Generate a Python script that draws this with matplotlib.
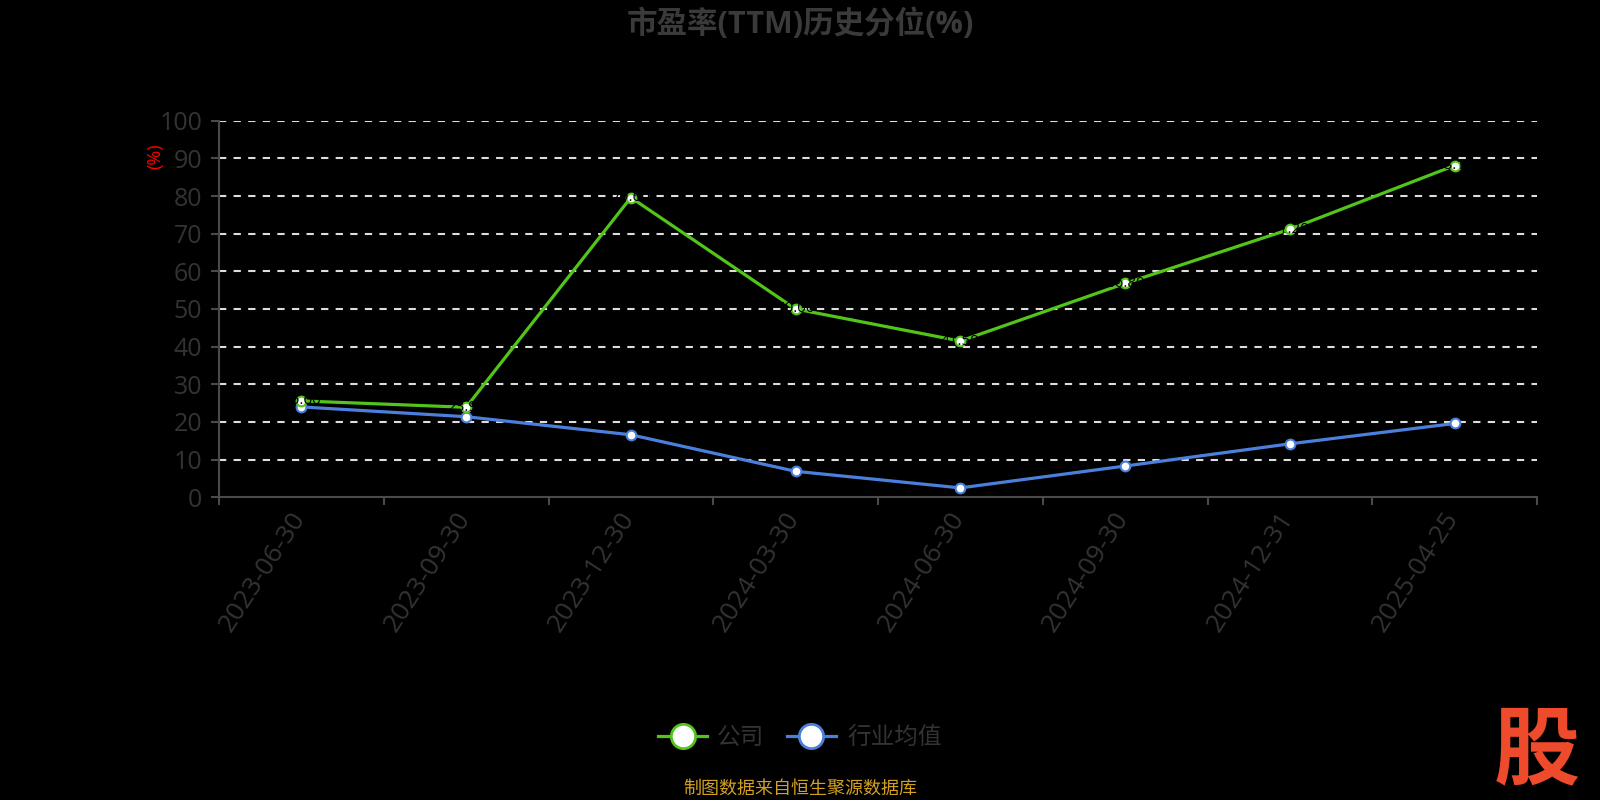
import matplotlib
matplotlib.use("Agg")
import matplotlib.pyplot as plt
from matplotlib.lines import Line2D

plt.rcParams['font.family'] = ['Open Sans', 'Noto Sans CJK SC', 'DejaVu Sans']

dates = ["2023-06-30", "2023-09-30", "2023-12-30", "2024-03-30",
         "2024-06-30", "2024-09-30", "2024-12-31", "2025-04-25"]
company = [25.6, 23.9, 79.6, 50.0, 41.5, 56.8, 71.2, 88.1]
industry = [24.0, 21.4, 16.6, 6.9, 2.5, 8.3, 14.2, 19.6]
yticks = [0, 10, 20, 30, 40, 50, 60, 70, 80, 90, 100]

GREEN = '#52c41a'
BLUE = '#4a80dc'
TXT = '#333333'
AXC = '#4a4a4a'

fig = plt.figure(figsize=(16, 8), dpi=100, facecolor='black')
ax = fig.add_axes([219/1600, 1-497.3/800, (1537-219)/1600, (497.3-120.7)/800])
ax.set_facecolor('black')

n = len(dates)
xs = list(range(n))
ax.set_xlim(-0.5, n-0.5)
ax.set_ylim(0, 100)

for v in yticks[1:]:
    ax.axhline(v, color='#dddddd', lw=1.5, dashes=(3.5, 3.5), zorder=1)

ax.plot(xs, company, color=GREEN, lw=2.3, marker='o', ms=7, mfc='white',
        mec=GREEN, mew=1.5, zorder=4, clip_on=False)
ax.plot(xs, industry, color=BLUE, lw=2.3, marker='o', ms=7, mfc='white',
        mec=BLUE, mew=1.5, zorder=3, clip_on=False)

for x, v in zip(xs, company):
    ax.text(x, v, f"{v:.2f}", color='black', ha='center', va='center', fontsize=11, zorder=5)

for s in ['top', 'right']:
    ax.spines[s].set_visible(False)
for s in ['left', 'bottom']:
    ax.spines[s].set_color(AXC)
    ax.spines[s].set_linewidth(1.5)

ax.set_yticks(yticks)
ax.set_yticklabels([str(v) for v in yticks])
ax.tick_params(axis='y', colors=AXC, labelcolor=TXT, labelsize=18, length=6, width=1.5, pad=6)

ax.set_xticks([i - 0.5 for i in range(n + 1)])
ax.set_xticklabels([])
ax.tick_params(axis='x', colors=AXC, length=6, width=1.5)
for x, d in zip(xs, dates):
    ax.annotate(d, xy=(x, 0), xycoords='data', xytext=(-1, -12), textcoords='offset points',
                rotation=57, rotation_mode='anchor', ha='right', va='center',
                color=TXT, fontsize=19)

fig.text(155/1600, 1-156/800, '(%)', color='red', rotation=90, ha='center', va='center', fontsize=13)

fig.text(0.5, 1-24/800, '市盈率(TTM)历史分位(%)', color='#3a3a3a', ha='center', va='center',
         fontsize=22, fontweight='bold')

# legend
ly = 1-736/800
fig.add_artist(Line2D([658/1600, 707/1600], [ly, ly], color=GREEN, lw=2.3, marker=None))
fig.add_artist(Line2D([683/1600], [ly], color=GREEN, marker='o', ms=17.5, mfc='white', mec=GREEN, mew=2))
fig.text(717/1600, 1-738/800, '公司', color=TXT, ha='left', va='center', fontsize=17)
fig.add_artist(Line2D([787/1600, 836/1600], [ly, ly], color=BLUE, lw=2.3))
fig.add_artist(Line2D([811/1600], [ly], color=BLUE, marker='o', ms=17.5, mfc='white', mec=BLUE, mew=2))
fig.text(847/1600, 1-738/800, '行业均值', color=TXT, ha='left', va='center', fontsize=17)

fig.text(0.5, 1-789/800, '制图数据来自恒生聚源数据库', color='#d4a020', ha='center', va='center', fontsize=13)
fig.text(1537/1600, 1-755/800, '股', color='#ee4a2c', ha='center', va='center', fontsize=62, fontweight='heavy')

fig.savefig('out.png', dpi=100, facecolor='black')
